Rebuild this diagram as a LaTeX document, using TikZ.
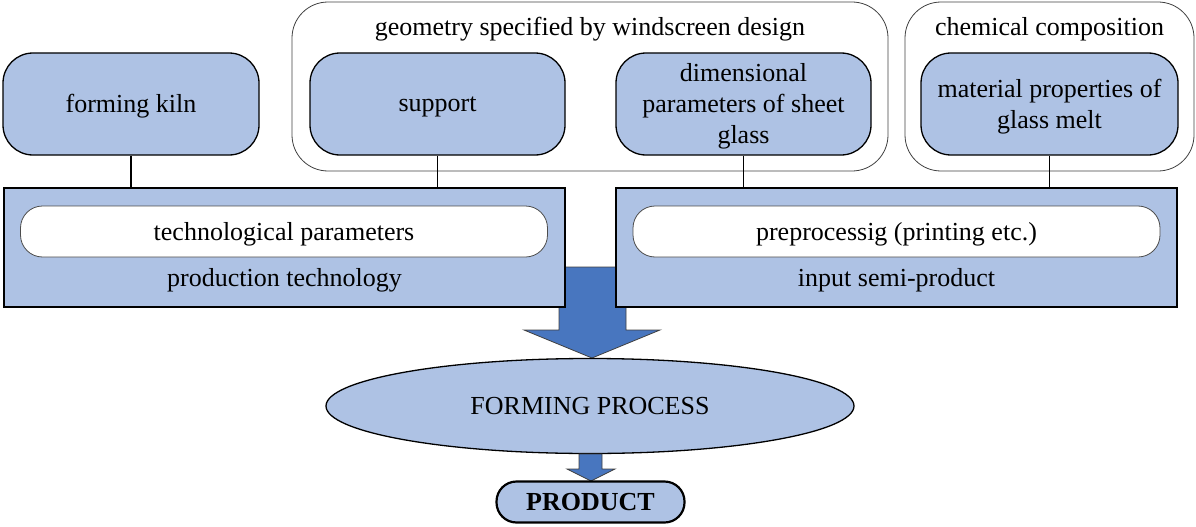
\documentclass[tikz,border=0pt]{standalone}
\usepackage{fontspec}
\setmainfont{Liberation Serif}
\usetikzlibrary{shapes.geometric}
\definecolor{paleblue}{HTML}{AEC2E4}
\definecolor{deepblue}{HTML}{4876BF}
\tikzset{
  factor/.style={draw=black, line width=1.3pt, fill=paleblue, rounded corners=30pt,
    minimum width=#1, minimum height=102pt, inner sep=0pt},
  group/.style={draw=black!75, line width=0.8pt, rounded corners=36pt},
  panel/.style={draw=black, line width=1.3pt, fill=paleblue, minimum width=561pt,
    minimum height=119pt, inner sep=0pt},
  inner/.style={draw=black!70, line width=0.8pt, fill=white, rounded corners=22pt,
    minimum width=527pt, minimum height=51pt, inner sep=0pt},
  txt/.style={inner sep=0pt, align=center},
  link/.style={line width=1.1pt},
  bigarrow/.style={fill=deepblue, draw=black!75, line width=0.8pt},
}
\begin{document}
\begin{tikzpicture}[x=1pt, y=-1pt, font=\fontsize{26}{31}\selectfont]
\useasboundingbox (0,0) rectangle (1196,527);

% outer groupings
\draw[group] (292,2) rectangle (888,171);
\node[txt] (geomlabel) at (590,29) {geometry specified by windscreen design};
\draw[group] (905,2) rectangle (1194,171);
\node[txt] (chemlabel) at (1049.5,29) {chemical composition};

% influencing factors
\node[factor=256pt] (kiln) at (131,104) {};
\node[factor=255pt] (support) at (437.5,104) {};
\node[factor=255pt] (dims) at (743.5,104) {};
\node[factor=257pt] (melt) at (1049.5,104) {};
\node[txt] (kilntxt) at ([yshift=-2.5pt]kiln.center) {forming kiln};
\node[txt] (supporttxt) at ([yshift=-2.5pt]support.center) {support};
\node[txt] (dimstxt) at ([yshift=-2.5pt]dims.center) {dimensional\\parameters of sheet\\glass};
\node[txt] (melttxt) at ([yshift=-2.5pt]melt.center) {material properties of\\glass melt};

% main flow arrow behind the panels
\path[bigarrow] (559,267) -- (626,267) -- (626,330) -- (660,330) -- (592,358)
  -- (524,330) -- (559,330) -- cycle;

% panels
\node[panel] (prodtech) at (284.5,247.5) {};
\node[panel] (semi) at (896.5,247.5) {};
\node[inner] (techpar) at (284,231.5) {};
\node[inner] (preproc) at (896.5,231.5) {};
\node[txt] (techpartxt) at ([yshift=-2.5pt]techpar.center) {technological parameters};
\node[txt] (preproctxt) at ([yshift=-2.5pt]preproc.center) {preprocessig (printing etc.)};
\node[txt] (prodlabel) at (284.5,280) {production technology};
\node[txt] (semilabel) at (896.5,280) {input semi-product};

% connectors
\draw[link] (kiln.south) -- (kiln.south |- prodtech.north);
\draw[link] (support.south) -- (support.south |- prodtech.north);
\draw[link] (dims.south) -- (dims.south |- semi.north);
\draw[link] (melt.south) -- (melt.south |- semi.north);

% process and result
\node[ellipse, draw=black, line width=1.3pt, fill=paleblue, minimum width=528pt,
  minimum height=95pt, inner sep=0pt] (process) at (590,406) {FORMING PROCESS};
\path[bigarrow] (579,454) -- (602,454) -- (602,469) -- (615,469) -- (591,481)
  -- (567,469) -- (579,469) -- cycle;
\node[draw=black, line width=2.2pt, fill=paleblue, rounded corners=20pt,
  minimum width=188pt, minimum height=41pt, inner sep=0pt, font=\fontsize{26}{31}\selectfont\bfseries]
  (product) at (590.5,502) {PRODUCT};
\end{tikzpicture}
\end{document}
